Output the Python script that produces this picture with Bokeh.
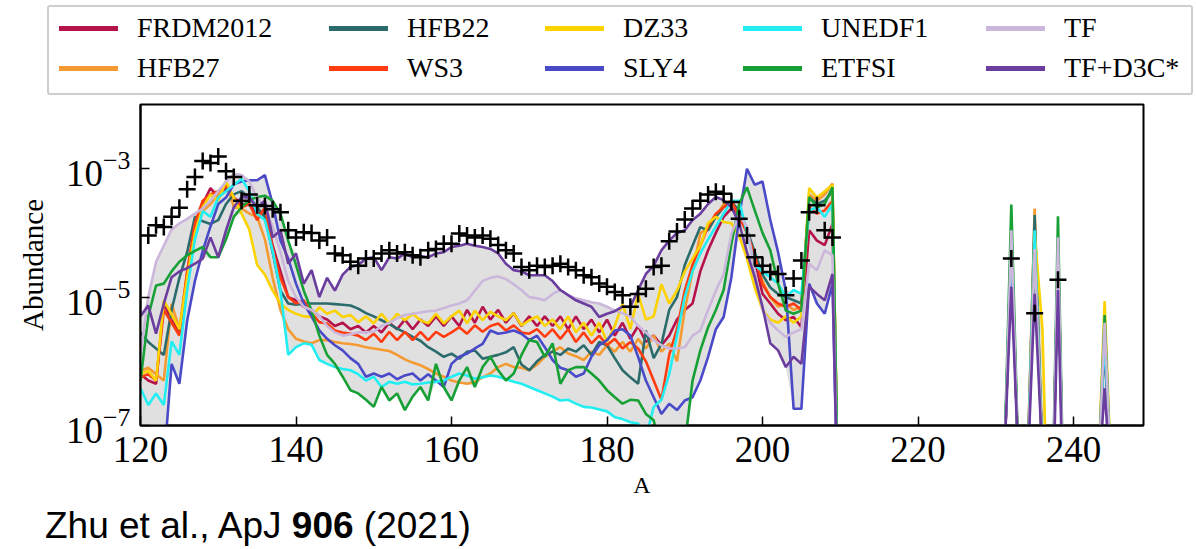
import numpy as np
from bokeh.plotting import figure
from bokeh.layouts import column
from bokeh.models import Range1d, FixedTicker, Div, LogTickFormatter
from bokeh.embed import file_html
from bokeh.resources import INLINE

# ---------------- data (log10 abundance) ----------------
mass_main = list(range(120, 210))
mass_tail = [210, 231, 232, 233, 234, 235, 236, 237, 238, 239, 243, 244, 245]
mass_number = mass_main + mass_tail

frdm2012_log = [
    -6.20, -6.30, -6.35, -5.10, -5.35, -5.55, -4.70, -3.90, -3.55, -3.30,
    -3.45, -3.30, -3.45, -3.55, -3.55, -3.70, -3.65, -4.20, -4.60, -5.00,
    -5.05, -5.15, -5.20, -5.30, -5.35, -5.45, -5.40, -5.50, -5.45, -5.55,
    -5.45, -5.55, -5.40, -5.50, -5.35, -5.50, -5.35, -5.45, -5.30, -5.45,
    -5.30, -5.45, -5.20, -5.40, -5.15, -5.35, -5.20, -5.40, -5.25, -5.45,
    -5.30, -5.45, -5.30, -5.45, -5.30, -5.50, -5.30, -5.50, -5.35, -5.55,
    -5.35, -5.60, -5.40, -5.65, -5.45, -5.70, -5.60, -5.75, -5.60, -5.35,
    -5.20, -5.10, -4.60, -4.27, -4.00, -3.75, -3.62, -3.70, -3.95, -4.43,
    -4.95, -5.10, -5.26, -5.36, -5.31, -5.47, -3.96, -4.12, -4.19, -3.86,
    -10, -8, -4.10, -8, -8, -4.10, -7.5, -10, -4.20, -10, -8.3, -5.60, -8.3]

hfb27_log = [
    -6.15, -6.10, -6.20, -6.30, -5.10, -5.50, -4.60, -3.95, -3.66, -3.55,
    -3.40, -3.20, -3.60, -3.62, -3.70, -3.75, -4.10, -4.70, -5.20, -5.50,
    -5.65, -5.69, -5.72, -5.67, -5.67, -5.70, -5.72, -5.73, -5.75, -5.78,
    -5.80, -5.82, -5.84, -5.90, -5.97, -6.02, -6.06, -6.12, -6.19, -6.24,
    -6.30, -6.33, -6.35, -6.32, -6.25, -6.19, -6.09, -6.04, -6.09, -6.10,
    -6.14, -6.05, -5.93, -5.85, -5.78, -5.88, -5.92, -5.98, -5.85, -5.90,
    -5.75, -5.85, -5.70, -5.85, -5.65, -5.80, -5.60, -5.85, -5.72, -6.00,
    -5.20, -4.60, -4.01, -3.91, -3.75, -3.55, -3.50, -3.70, -4.00, -4.40,
    -4.75, -5.00, -5.15, -5.10, -5.20, -5.15, -3.40, -3.50, -3.40, -3.23,
    -10, -8, -4.05, -8, -8, -3.62, -7.5, -10, -4.20, -10, -8.3, -5.60, -8.3]

hfb22_log = [
    -5.55, -5.70, -5.80, -5.90, -5.20, -4.70, -4.30, -3.75, -3.82, -3.86,
    -3.80, -3.55, -3.40, -3.35, -3.45, -3.60, -3.75, -4.30, -4.90, -5.10,
    -5.12, -5.10, -5.10, -5.10, -5.10, -5.11, -5.12, -5.13, -5.18, -5.25,
    -5.30, -5.36, -5.42, -5.49, -5.55, -5.62, -5.68, -5.78, -5.85, -5.93,
    -5.88, -5.96, -5.85, -5.83, -5.96, -5.93, -5.90, -5.86, -5.78, -6.05,
    -6.14, -6.00, -5.90, -5.85, -5.90, -5.80, -5.85, -5.75, -5.90, -5.70,
    -5.75, -5.95, -6.14, -6.25, -6.35, -5.52, -5.95, -5.73, -5.20, -5.00,
    -4.50, -4.20, -3.91, -3.96, -3.75, -3.60, -3.52, -3.65, -3.95, -4.30,
    -4.65, -4.85, -4.95, -5.00, -5.05, -5.10, -3.45, -3.55, -3.50, -3.35,
    -10, -8, -4.10, -8, -8, -3.72, -7.5, -10, -4.20, -10, -8.3, -5.60, -8.3]

ws3_log = [
    -6.25, -6.20, -6.30, -5.20, -5.40, -5.60, -4.60, -3.85, -3.50, -3.40,
    -3.35, -3.25, -3.45, -3.60, -3.55, -3.80, -3.60, -4.25, -4.70, -5.00,
    -5.10, -5.05, -5.25, -5.39, -5.41, -5.52, -5.55, -5.57, -5.60, -5.67,
    -5.57, -5.70, -5.54, -5.67, -5.54, -5.67, -5.54, -5.67, -5.54, -5.62,
    -5.55, -5.47, -5.57, -5.44, -5.54, -5.45, -5.41, -5.52, -5.44, -5.55,
    -5.57, -5.50, -5.62, -5.50, -5.65, -5.50, -5.70, -5.55, -5.72, -5.60,
    -5.75, -5.65, -5.80, -5.70, -5.80, -6.00, -6.30, -6.60, -5.90, -5.50,
    -4.90, -4.50, -4.20, -3.90, -3.70, -3.60, -3.50, -3.75, -4.00, -4.35,
    -4.80, -5.00, -5.10, -5.15, -5.10, -5.20, -3.60, -3.70, -3.65, -3.50,
    -10, -8, -4.10, -8, -8, -4.10, -7.5, -10, -4.20, -10, -8.3, -5.60, -8.3]

dz33_log = [
    -6.20, -6.15, -6.30, -5.05, -5.27, -5.50, -4.70, -4.00, -3.60, -3.40,
    -3.50, -3.20, -3.45, -3.70, -3.95, -4.50, -4.65, -4.90, -5.10, -5.20,
    -5.26, -5.30, -5.31, -5.16, -5.26, -5.21, -5.31, -5.28, -5.39, -5.30,
    -5.41, -5.26, -5.41, -5.26, -5.36, -5.26, -5.36, -5.41, -5.26, -5.41,
    -5.30, -5.21, -5.41, -5.21, -5.36, -5.23, -5.30, -5.36, -5.25, -5.44,
    -5.36, -5.30, -5.45, -5.35, -5.50, -5.30, -5.55, -5.40, -5.60, -5.40,
    -5.70, -5.45, -5.10, -5.50, -4.95, -5.35, -5.30, -4.80, -5.10, -4.90,
    -4.60, -4.40, -4.20, -3.85, -3.75, -3.83, -3.85, -4.05, -4.40, -4.85,
    -5.20, -5.35, -5.40, -5.30, -5.40, -5.30, -3.30, -3.45, -3.35, -3.25,
    -10, -8, -4.10, -8, -8, -4.00, -5.5, -10, -4.20, -10, -8.3, -5.06, -8.3]

sly4_log = [
    -8.50, -8.50, -8.50, -7.60, -6.04, -6.35, -5.37, -4.75, -4.28, -3.90,
    -3.55, -3.45, -3.24, -3.20, -3.18, -3.18, -3.10, -3.55, -4.12, -4.40,
    -4.79, -5.10, -5.30, -5.52, -5.65, -5.75, -5.83, -5.95, -6.04, -6.24,
    -6.19, -6.24, -6.19, -6.28, -6.22, -6.19, -6.30, -6.20, -6.30, -6.40,
    -6.04, -5.93, -5.88, -5.80, -5.73, -5.52, -5.57, -5.55, -5.52, -5.57,
    -5.67, -5.60, -5.78, -5.98, -6.10, -6.14, -6.24, -6.19, -5.93, -5.75,
    -5.67, -5.52, -5.50, -5.60, -5.93, -6.30, -6.56, -6.82, -6.66, -6.76,
    -6.61, -6.56, -6.30, -5.93, -5.50, -5.31, -4.69, -3.75, -3.00, -3.25,
    -3.20, -3.80, -4.30, -4.90, -6.74, -6.74, -4.79, -5.10, -5.26, -4.79,
    -10, -8, -4.20, -8, -8, -4.30, -7.5, -10, -4.30, -10, -8.3, -5.70, -8.3]

unedf1_log = [
    -6.42, -6.68, -6.50, -6.68, -5.69, -5.90, -4.90, -4.10, -3.66, -3.75,
    -3.45, -3.35, -3.25, -3.16, -3.35, -3.70, -3.80, -4.28, -4.90, -5.90,
    -5.78, -5.72, -5.74, -5.98, -6.04, -6.09, -6.12, -6.14, -6.20, -6.30,
    -6.24, -6.40, -6.32, -6.35, -6.32, -6.36, -6.35, -6.33, -6.32, -6.30,
    -6.24, -6.19, -6.22, -6.27, -6.25, -6.22, -6.24, -6.28, -6.32, -6.35,
    -6.40, -6.45, -6.50, -6.55, -6.61, -6.60, -6.66, -6.71, -6.72, -6.75,
    -6.78, -6.87, -6.90, -6.95, -6.97, -7.20, -6.71, -6.60, -6.20, -5.60,
    -5.00, -4.60, -4.32, -4.10, -3.90, -3.70, -3.50, -3.50, -4.00, -4.50,
    -4.60, -4.69, -4.79, -5.00, -4.89, -4.95, -3.65, -3.60, -3.75, -3.55,
    -10, -8, -4.00, -8, -8, -3.96, -7.5, -10, -4.15, -10, -8.3, -5.60, -8.3]

etfsi_log = [
    -6.30, -5.30, -4.82, -4.79, -4.60, -4.45, -4.35, -4.28, -4.22, -4.38,
    -4.38, -4.10, -3.75, -3.60, -3.49, -3.44, -3.42, -3.50, -3.70, -4.12,
    -4.50, -4.90, -5.21, -5.60, -5.90, -6.04, -6.24, -6.45, -6.50, -6.60,
    -6.71, -6.40, -6.61, -6.50, -6.76, -6.55, -6.40, -6.61, -6.04, -6.40,
    -6.61, -6.30, -6.09, -6.40, -6.09, -5.93, -6.14, -6.30, -6.19, -5.90,
    -5.67, -5.70, -5.93, -5.72, -6.35, -6.14, -6.09, -6.09, -6.19, -6.30,
    -6.45, -6.56, -6.66, -6.60, -6.61, -6.82, -6.92, -7.40, -7.60, -7.60,
    -7.30, -6.30, -5.83, -5.47, -5.20, -4.89, -4.17, -3.55, -3.29, -3.65,
    -4.00, -4.27, -4.79, -5.21, -5.26, -5.21, -3.44, -3.60, -3.55, -3.29,
    -10, -8, -3.56, -8, -8, -4.30, -7.5, -10, -3.74, -10, -8.3, -5.28, -8.3]

tf_log = [
    -5.90, -5.00, -4.45, -4.20, -3.95, -3.85, -3.78, -3.70, -3.62, -3.50,
    -3.35, -3.20, -3.08, -3.10, -3.20, -3.45, -3.60, -3.90, -4.30, -4.75,
    -5.00, -5.15, -5.20, -5.30, -5.45, -5.55, -5.60, -5.58, -5.55, -5.55,
    -5.54, -5.45, -5.40, -5.33, -5.28, -5.26, -5.24, -5.22, -5.21, -5.17,
    -5.13, -5.10, -5.05, -4.90, -4.75, -4.70, -4.68, -4.72, -4.80, -4.89,
    -5.00, -5.02, -5.05, -4.95, -4.89, -4.97, -5.02, -5.05, -5.08, -5.10,
    -5.15, -5.21, -5.25, -5.30, -5.45, -5.55, -5.67, -5.75, -5.80, -5.80,
    -5.78, -5.60, -5.52, -5.20, -4.90, -4.64, -4.01, -3.72, -3.90, -4.60,
    -5.20, -5.40, -5.52, -5.62, -5.55, -5.50, -4.48, -4.58, -4.27, -4.35,
    -10, -8, -3.96, -8, -8, -4.25, -7.5, -10, -4.07, -10, -8.3, -5.40, -8.3]

tf_d3c_log = [
    -5.30, -5.13, -5.57, -5.10, -4.69, -4.60, -4.55, -4.48, -4.40, -4.07,
    -4.38, -3.96, -3.60, -3.44, -3.45, -3.60, -3.50, -4.07, -3.96, -4.48,
    -4.32, -4.79, -4.58, -5.00, -4.70, -4.90, -4.65, -4.53, -4.50, -4.40,
    -4.38, -4.58, -4.38, -4.40, -4.32, -4.38, -4.36, -4.38, -4.32, -4.30,
    -4.22, -4.20, -4.17, -4.20, -4.22, -4.25, -4.32, -4.48, -4.58, -4.60,
    -4.66, -4.66, -4.66, -4.75, -4.89, -4.97, -5.05, -5.10, -5.15, -5.31,
    -5.26, -5.22, -5.15, -5.15, -4.89, -4.64, -4.51, -4.27, -4.12, -4.00,
    -3.96, -3.80, -3.70, -3.55, -3.44, -3.49, -3.60, -3.85, -4.30, -4.69,
    -5.15, -5.72, -5.83, -6.09, -5.93, -6.04, -4.84, -4.95, -5.05, -4.64,
    -10, -7.8, -4.84, -7.8, -8, -4.95, -7.5, -10, -4.89, -10, -8.3, -6.42, -8.3]

solar_mass = list(range(121, 210)) + [232, 235, 238]
solar_log = [
    -4.04, -3.88, -3.91, -3.75, -3.61, -3.32, -3.13, -2.88, -2.91,
    -2.81, -3.04, -3.13, -3.50, -3.40, -3.57, -3.58, -3.63, -3.68, -3.96,
    -4.07, -3.99, -4.00, -4.12, -4.07, -4.32, -4.35, -4.45, -4.51, -4.40,
    -4.40, -4.32, -4.27, -4.32, -4.30, -4.35, -4.38, -4.27, -4.25, -4.17,
    -4.17, -4.01, -4.04, -4.07, -4.04, -4.09, -4.19, -4.27, -4.32, -4.53,
    -4.58, -4.51, -4.53, -4.51, -4.48, -4.53, -4.58, -4.66, -4.69, -4.79,
    -4.84, -4.92, -4.97, -5.15, -4.95, -4.87, -4.53, -4.51, -4.13, -3.98,
    -3.79, -3.62, -3.50, -3.40, -3.36, -3.39, -3.52, -3.78, -4.04, -4.38,
    -4.51, -4.61, -4.64, -4.97, -4.71, -4.43, -3.68, -3.57, -3.96, -4.07,
    -4.40, -5.25, -4.73]

series_names = ["FRDM2012", "HFB27", "HFB22", "WS3", "DZ33", "SLY4",
                "UNEDF1", "ETFSI", "TF", "TF+D3C*"]
series_logs = [frdm2012_log, hfb27_log, hfb22_log, ws3_log, dz33_log, sly4_log,
               unedf1_log, etfsi_log, tf_log, tf_d3c_log]
series_colors = ["#b5124b", "#f59a30", "#2c6b6b", "#ff3c10", "#fcd200", "#4a4ac8",
                 "#22eef2", "#17a035", "#cbb7dc", "#6a3d9e"]
legend_columns = [["FRDM2012", "HFB27"], ["HFB22", "WS3"], ["DZ33", "SLY4"],
                  ["UNEDF1", "ETFSI"], ["TF", "TF+D3C*"]]
x_ticks = [120, 140, 160, 180, 200, 220, 240]
y_ticks = [1e-7, 1e-5, 1e-3]
caption_html = "Zhu et al., ApJ <b>906</b> (2021)"

for nm, lg in zip(series_names, series_logs):
    if len(lg) != len(mass_number):
        raise ValueError(f"{nm}: {len(lg)} values for {len(mass_number)} masses")
if len(solar_log) != len(solar_mass):
    raise ValueError("solar length mismatch")
color_of = dict(zip(series_names, series_colors))

# ---------------- legend strip (HTML, above the plot) ----------------
col_left = [59, 329, 545, 743, 986]      # px, start of each legend column
row_center = [28, 68]                     # px, centre of each legend row
parts = ['<div style="position:relative;width:1196px;height:100px;">',
         '<div style="position:absolute;left:47px;top:5px;width:1146px;height:90px;'
         'border:2px solid #cdcdcd;border-radius:3px;box-sizing:border-box;"></div>']
for cx, names in zip(col_left, legend_columns):
    for cy, nm in zip(row_center, names):
        parts.append(f'<div style="position:absolute;left:{cx}px;top:{cy - 2.5}px;'
                     f'width:59px;height:5px;background:{color_of[nm]};"></div>')
        parts.append(f'<div style="position:absolute;left:{cx + 78}px;top:{cy - 16}px;'
                     "font-family:'Liberation Serif',serif;font-size:28px;"
                     f'line-height:32px;color:black;white-space:nowrap;">{nm}</div>')
parts.append('</div>')
legend_div = Div(text="".join(parts), width=1196, height=100, margin=(0, 0, 0, 0))

# ---------------- main plot ----------------
p = figure(width=1196, height=415, output_backend="svg", toolbar_location=None,
           y_axis_type="log", x_range=Range1d(120, 249), y_range=Range1d(1e-7, 1e-2),
           min_border_left=140, min_border_right=53, min_border_top=4,
           min_border_bottom=90, background_fill_color="white",
           border_fill_color="white")
p.xgrid.visible = False
p.ygrid.visible = False
p.outline_line_color = "black"
p.outline_line_width = 2
p.outline_line_alpha = 1

for ax in (p.xaxis[0], p.yaxis[0]):
    ax.axis_line_width = 2
    ax.axis_line_color = "black"
    ax.major_tick_in = 9
    ax.major_tick_out = 0
    ax.minor_tick_in = 0
    ax.minor_tick_out = 0
    ax.major_tick_line_width = 1.5
    ax.major_tick_line_color = "black"
    ax.major_label_text_font = "Liberation Serif"
    ax.major_label_text_color = "black"
    ax.axis_label_text_font = "Liberation Serif"
    ax.axis_label_text_font_style = "normal"
    ax.axis_label_text_color = "black"

p.xaxis.ticker = FixedTicker(ticks=x_ticks)
p.yaxis.ticker = FixedTicker(ticks=y_ticks)
p.yaxis.formatter = LogTickFormatter()
p.xaxis.major_label_text_font_size = "37px"
p.yaxis.major_label_text_font_size = "37px"
p.xaxis.axis_label = "A"
p.xaxis.axis_label_text_font_size = "24px"
p.xaxis.major_label_standoff = 11
p.xaxis.axis_label_standoff = 7
p.yaxis.axis_label = "Abundance"
p.yaxis.axis_label_text_font_size = "29px"
p.yaxis.major_label_standoff = 10
p.yaxis.axis_label_standoff = 14

# envelope of the models
all_vals = np.array([10.0 ** np.array(lg) for lg in series_logs])
band_lo = all_vals.min(axis=0)
band_hi = all_vals.max(axis=0)
p.varea(x=mass_number, y1=band_lo, y2=band_hi, fill_color="#e0e0e0", fill_alpha=1)

for nm, lg, col in zip(series_names, series_logs, series_colors):
    p.line(mass_number, 10.0 ** np.array(lg), line_color=col, line_width=2.6)

p.scatter(solar_mass, 10.0 ** np.array(solar_log), marker="cross", size=17,
          line_color="black", line_width=2.5)

# ---------------- caption ----------------
caption = Div(text=caption_html, width=700, height=34, margin=(0, 0, 0, 45),
              styles={"font-family": "'Liberation Sans', Arial, sans-serif",
                      "font-size": "37px", "line-height": "22px", "color": "black",
                      "white-space": "nowrap"})

layout = column(legend_div, p, caption, spacing=0)
open("out.html", "w").write(file_html(layout, INLINE))
